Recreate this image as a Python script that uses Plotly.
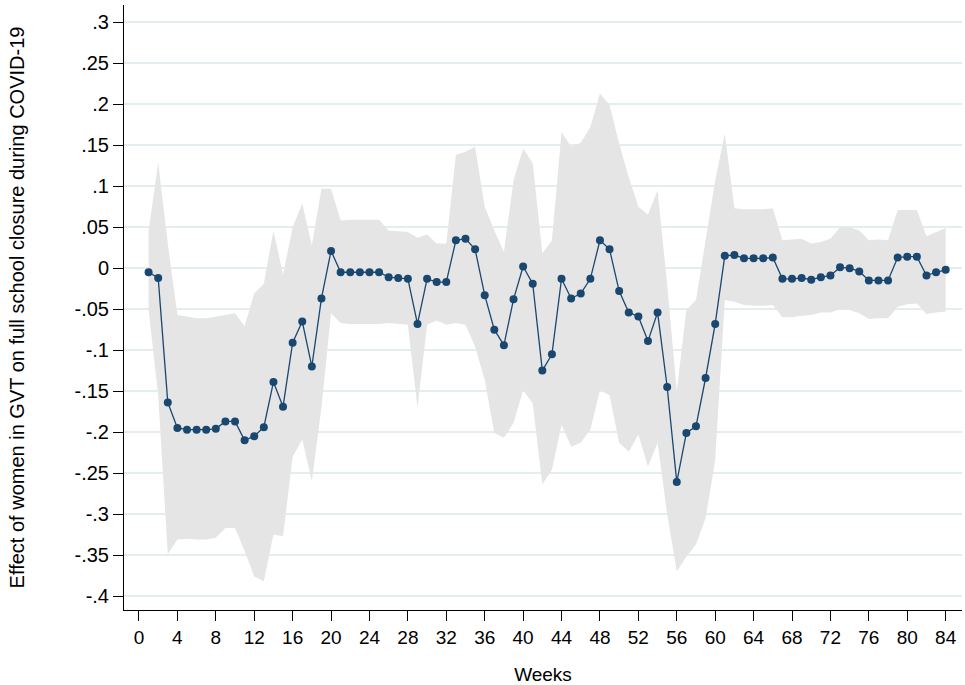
import plotly.graph_objects as go

weeks = list(range(1, 85))
estimate = [-0.005, -0.012, -0.164, -0.195, -0.197, -0.197, -0.197, -0.196, -0.187, -0.187,
            -0.210, -0.205, -0.194, -0.139, -0.169, -0.091, -0.065, -0.120, -0.037, 0.021,
            -0.005, -0.005, -0.005, -0.005, -0.005, -0.011, -0.012, -0.013, -0.068, -0.013,
            -0.017, -0.017, 0.034, 0.036, 0.023, -0.033, -0.075, -0.094, -0.038, 0.002,
            -0.019, -0.125, -0.105, -0.013, -0.037, -0.031, -0.013, 0.034, 0.023, -0.028,
            -0.054, -0.059, -0.089, -0.054, -0.145, -0.261, -0.201, -0.193, -0.134, -0.068,
            0.015, 0.016, 0.012, 0.012, 0.012, 0.013, -0.013, -0.013, -0.012, -0.014,
            -0.011, -0.009, 0.001, 0.000, -0.004, -0.015, -0.015, -0.015, 0.013, 0.014,
            0.014, -0.009, -0.005, -0.002]
upper = [0.045, 0.129, 0.030, -0.057, -0.059, -0.061, -0.061, -0.059, -0.057, -0.055,
         -0.071, -0.031, -0.019, 0.046, -0.008, 0.050, 0.079, 0.028, 0.097, 0.097,
         0.058, 0.059, 0.059, 0.059, 0.059, 0.046, 0.045, 0.044, 0.037, 0.041,
         0.030, 0.030, 0.138, 0.142, 0.148, 0.075, 0.046, 0.020, 0.107, 0.146,
         0.128, 0.018, 0.034, 0.166, 0.148, 0.153, 0.172, 0.213, 0.199, 0.152,
         0.111, 0.075, 0.065, 0.095, -0.020, -0.150, -0.051, -0.039, 0.034, 0.107,
         0.164, 0.073, 0.072, 0.072, 0.072, 0.073, 0.034, 0.035, 0.036, 0.030,
         0.032, 0.036, 0.050, 0.050, 0.046, 0.034, 0.035, 0.034, 0.071, 0.071,
         0.071, 0.039, 0.044, 0.049]
lower = [-0.051, -0.155, -0.349, -0.331, -0.330, -0.331, -0.331, -0.329, -0.317, -0.317,
         -0.345, -0.376, -0.382, -0.325, -0.327, -0.230, -0.209, -0.260, -0.170, -0.055,
         -0.067, -0.068, -0.068, -0.068, -0.068, -0.067, -0.068, -0.069, -0.170, -0.069,
         -0.064, -0.069, -0.067, -0.069, -0.096, -0.136, -0.201, -0.207, -0.189, -0.149,
         -0.165, -0.264, -0.246, -0.191, -0.218, -0.213, -0.197, -0.149, -0.155, -0.213,
         -0.224, -0.203, -0.242, -0.213, -0.300, -0.370, -0.352, -0.337, -0.305, -0.234,
         -0.039, -0.041, -0.045, -0.046, -0.046, -0.045, -0.060, -0.060, -0.058, -0.057,
         -0.054, -0.054, -0.050, -0.051, -0.055, -0.062, -0.061, -0.061, -0.047, -0.044,
         -0.043, -0.056, -0.054, -0.053]

xticks = list(range(0, 85, 4))
yticks = [0.3, 0.25, 0.2, 0.15, 0.1, 0.05, 0, -0.05, -0.1, -0.15, -0.2, -0.25, -0.3, -0.35, -0.4]
yticklabels = [".3", ".25", ".2", ".15", ".1", ".05", "0", "-.05", "-.1", "-.15", "-.2", "-.25", "-.3", "-.35", "-.4"]

fig = go.Figure()
fig.add_trace(go.Scatter(x=weeks + weeks[::-1], y=upper + lower[::-1], fill="toself",
                         fillcolor="#e5e5e5", line=dict(width=0), mode="lines",
                         hoverinfo="skip", showlegend=False))
fig.add_trace(go.Scatter(x=weeks, y=estimate, mode="lines+markers",
                         line=dict(color="#1a476f", width=1.3),
                         marker=dict(color="#1a476f", size=8), showlegend=False))

font_main = "Liberation Sans, Arial, sans-serif"
fig.update_layout(
    width=965, height=685,
    margin=dict(l=124, r=3, t=5, b=75),
    plot_bgcolor="white", paper_bgcolor="white",
    font=dict(family=font_main, size=19, color="black"),
    xaxis=dict(range=[-1.56, 85.7], tickvals=xticks, ticks="outside", ticklen=10,
               tickcolor="black", showline=True, linecolor="black", linewidth=1,
               showgrid=False, zeroline=False,
               tickfont=dict(size=19),
               title=dict(text="Weeks", font=dict(size=19), standoff=22)),
    yaxis=dict(range=[-0.417, 0.321], tickvals=yticks, ticktext=yticklabels,
               ticks="outside", ticklen=10, tickcolor="black", showline=True,
               linecolor="black", linewidth=1, showgrid=True, gridcolor="#e4eef1",
               gridwidth=1.5, zeroline=False, tickfont=dict(size=20),
               title=dict(text="Effect of women in GVT on full school closure during COVID-19",
                          font=dict(size=20), standoff=44)),
)

fig.write_html("out.html")
